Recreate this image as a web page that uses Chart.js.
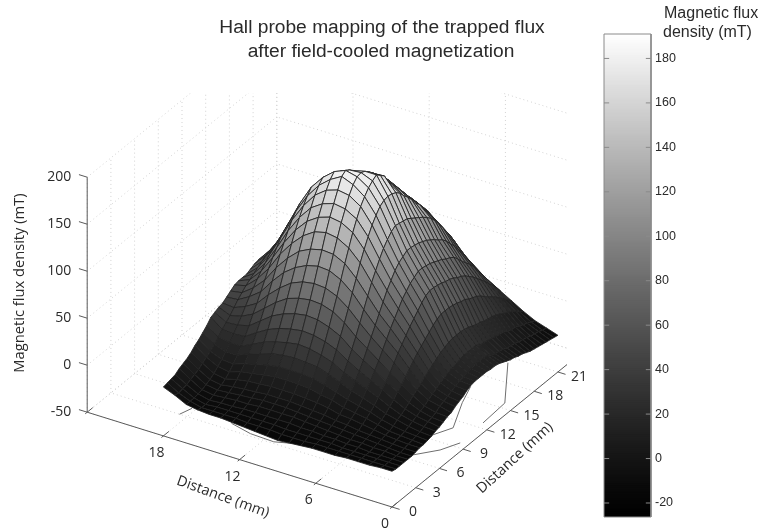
<!DOCTYPE html>
<html>
<head>
<meta charset="utf-8">
<title>Hall probe mapping</title>
<script src="https://cdn.jsdelivr.net/npm/chart.js@4/dist/chart.umd.js"></script>
<style>
  html,body{margin:0;padding:0;background:#fff;}
  canvas{position:absolute;display:block;}
</style>
</head>
<body>
<canvas id="surface" width="762" height="531" style="left:0;top:0;width:762px;height:531px"></canvas>
<canvas id="colorbar" width="172" height="531" style="left:590px;top:0;width:172px;height:531px"></canvas>
<script>
// grid of the probe scan (mm)
const distX = [0,0.9,1.8,2.7,3.6,4.5,5.4,6.3,7.2,8.1,9,9.9,10.8,11.7,12.6,13.5,14.4,15.3,16.2,17.1,18];
const distY = [0,0.5,1,1.5,2,2.5,3,3.5,4,4.5,5,5.5,6,6.5,7,7.5,8,8.5,9,9.5,10,10.5,
  11,11.5,12,12.5,13,13.5,14,14.5,15,15.5,16,16.5,17,17.5,18,18.5,19,19.5,20,20.5,21];

// flux density in mT, one list per y row
const row00 = [-12,-12,-13,-13,-13,-14,-14,-14,-15,-16,-17,-16,-15,-14,-13,-12,-12,-11,-9,-3,2];
const row01 = [-13,-13,-13,-13,-13,-13,-13,-13,-14,-14,-14,-13,-13,-13,-12,-12,-12,-12,-9,-4,3];
const row02 = [-13,-13,-13,-13,-13,-13,-12,-12,-12,-12,-12,-11,-11,-11,-11,-11,-11,-12,-9,-3,4];
const row03 = [-13,-13,-13,-13,-12,-12,-11,-11,-10,-10,-9,-9,-9,-9,-9,-10,-10,-11,-8,-2,5];
const row04 = [-13,-13,-12,-12,-11,-11,-10,-9,-8,-7,-6,-6,-6,-6,-7,-7,-8,-9,-7,0,8];
const row05 = [-13,-13,-12,-11,-10,-9,-8,-7,-6,-5,-4,-3,-3,-3,-4,-5,-6,-7,-5,2,10];
const row06 = [-12,-12,-11,-10,-9,-8,-6,-5,-3,-2,-1,0,0,0,-1,-2,-3,-5,-3,4,12];
const row07 = [-11,-11,-10,-9,-7,-5,-3,-2,1,3,4,5,5,5,4,3,1,-2,0,7,15];
const row08 = [-11,-10,-9,-8,-5,-2,0,2,6,8,11,12,12,12,10,8,6,2,4,10,19];
const row09 = [-10,-9,-8,-6,-3,1,4,7,11,15,18,19,19,19,17,14,11,7,8,13,22];
const row10 = [-9,-8,-6,-3,0,5,9,13,18,23,27,28,29,28,26,22,18,13,13,17,26];
const row11 = [-7,-6,-4,-1,4,10,15,20,25,32,36,39,40,38,35,31,25,19,19,21,30];
const row12 = [-6,-4,-2,2,8,15,21,27,34,42,47,50,51,49,46,41,34,26,25,26,35];
const row13 = [-4,-3,0,5,13,20,28,35,43,53,59,63,64,62,58,52,43,34,31,30,37];
const row14 = [-2,-1,2,9,17,26,35,44,53,64,72,76,77,75,71,63,53,43,37,34,39];
const row15 = [-1,2,5,12,22,33,43,53,64,76,85,90,91,89,84,75,64,51,44,39,40];
const row16 = [2,4,8,15,27,40,51,62,75,89,99,105,106,103,97,88,75,60,51,44,43];
const row17 = [4,6,10,19,32,46,59,71,86,101,113,119,120,117,111,100,86,69,57,48,46];
const row18 = [6,8,13,22,37,52,66,80,97,114,126,133,135,132,124,112,97,78,63,52,49];
const row19 = [9,10,15,25,41,58,73,89,106,125,139,146,148,144,136,123,106,86,68,55,50];
const row20 = [11,12,17,28,45,63,80,96,115,135,150,157,159,155,147,133,115,93,73,58,50];
const row21 = [12,13,19,31,49,68,85,103,123,144,160,168,170,166,157,142,123,100,78,61,50];
const row22 = [12,14,20,33,53,73,90,108,129,151,167,176,181,174,164,149,129,105,82,64,52];
const row23 = [12,15,21,35,56,77,93,111,134,157,173,181,184,179,169,155,134,109,85,67,54];
const row24 = [12,16,22,36,58,79,96,114,137,160,177,182,181,175,167,153,132,111,87,69,55];
const row25 = [11,16,22,36,58,79,96,114,136,161,180,180,177,173,165,152,134,110,86,68,54];
const row26 = [11,16,22,36,58,78,95,113,135,160,176,176,172,170,162,151,135,110,86,68,53];
const row27 = [10,15,22,35,57,77,94,112,134,158,172,171,168,166,160,150,134,109,85,67,50];
const row28 = [8,12,19,34,56,75,92,110,131,154,162,166,163,161,157,148,131,107,83,66,49];
const row29 = [6,10,18,32,54,74,90,108,128,148,156,161,159,157,153,144,128,105,81,64,48];
const row30 = [4,9,17,30,53,72,88,105,125,143,150,156,155,153,150,141,125,102,79,62,46];
const row31 = [3,8,16,29,50,69,85,102,122,137,144,150,151,150,147,137,122,99,77,61,44];
const row32 = [1,6,14,27,48,67,83,98,118,130,137,143,146,147,143,133,118,95,75,59,42];
const row33 = [0,5,13,26,46,64,80,95,114,125,130,136,141,143,140,129,114,92,72,56,40];
const row34 = [-2,4,12,25,43,60,75,90,108,117,124,128,135,137,135,124,108,87,68,53,37];
const row35 = [-4,2,10,23,39,56,69,84,101,110,117,122,128,132,129,118,101,82,64,49,34];
const row36 = [-5,1,8,21,35,51,64,78,94,103,110,115,121,128,121,110,94,76,59,46,30];
const row37 = [-6,0,7,18,32,46,59,71,86,95,104,109,114,118,111,101,86,69,54,41,26];
const row38 = [-7,-2,5,16,28,41,53,64,78,87,97,103,107,107,100,91,78,62,48,36,22];
const row39 = [-8,-3,3,13,24,35,46,56,69,79,88,96,97,95,89,80,69,55,41,31,18];
const row40 = [-9,-4,1,10,19,30,39,48,59,70,78,83,84,82,76,69,59,46,34,26,14];
const row41 = [-10,-6,-1,6,15,24,31,40,49,58,65,69,70,68,64,57,49,38,28,20,10];
const row42 = [-11,-7,-3,3,10,17,24,31,39,47,53,56,57,55,52,46,39,30,21,15,6];
const fluxRows = [row00,row01,row02,row03,row04,row05,row06,row07,row08,row09,row10,row11,row12,row13,row14,
  row15,row16,row17,row18,row19,row20,row21,row22,row23,row24,row25,row26,row27,row28,row29,
  row30,row31,row32,row33,row34,row35,row36,row37,row38,row39,row40,row41,row42];

// contour traces on the floor, [x mm, y mm]
const contourA = [[15,3.8],[13.2,3.3],[11.3,3.2],[9.8,3.8]];
const contourB = [[3.2,6],[2.45,6.6],[1.25,8.1],[0.6,9.6]];
const contourC = [[3.2,8.8],[2.7,9.6],[2.06,11.05],[3.3,14.2],[3.95,16.3]];
const contourD = [[0.7,12.65],[0.85,15.65],[3.5,20.3]];
const contourE = [[18.6,3],[18.3,4.1]];

// axes
const xTicks = [0,6,12,18,24];
const xTickLabels = ['0','6','12','18',''];
const yTicks = [0,3,6,9,12,15,18,21,24];
const yTickLabels = ['0','3','6','9','12','15','18','21',''];
const zTicks = [-50,0,50,100,150,200];
const barTicks = [-20,0,20,40,60,80,100,120,140,160,180];
const titleLines = ['Hall probe mapping of the trapped flux','after field-cooled magnetization'];
const axisName = 'Distance (mm)';
const zName = 'Magnetic flux density (mT)';
const barNameLines = ['Magnetic flux','density (mT)'];

const X_MAX = 24, Y_MAX = 24, Z_MIN = -50, Z_MAX = 200;
const C_MIN = -26.3, C_MAX = 191, GRAY_LEVELS = 256, GRAY_GAMMA = 1.2;

// orthographic view of the 3D box onto page pixels
function project(x, y, z){
  return {x: 392 - 12.7*x + 7.9*y, y: 507 - 3.95*x - 6.43*y - 0.94*(z - Z_MIN)};
}
function grayFor(z){
  const t = Math.max(0, Math.min(1, (z - C_MIN)/(C_MAX - C_MIN)));
  const v = Math.round(Math.pow(t, GRAY_GAMMA)*255);
  return 'rgb('+v+','+v+','+v+')';
}

// filled quad per dataset, points still go through the scales
class SurfaceQuadController extends Chart.ScatterController {
  draw(){
    const pts = this.getMeta().data, ds = this.getDataset(), ctx = this.chart.ctx;
    ctx.save();
    ctx.beginPath();
    pts.forEach((p,i) => i ? ctx.lineTo(p.x,p.y) : ctx.moveTo(p.x,p.y));
    ctx.closePath();
    ctx.fillStyle = ds.backgroundColor;
    ctx.fill();
    ctx.strokeStyle = ds.borderColor;
    ctx.lineWidth = ds.borderWidth;
    ctx.stroke();
    ctx.restore();
  }
}
SurfaceQuadController.id = 'surfaceQuad';
SurfaceQuadController.defaults = Chart.ScatterController.defaults;
Chart.register(SurfaceQuadController);

const WALL_CLIP = {left:0, top:-93, right:-195, bottom:0};
function seg(points, color, width, dash){
  return {type:'scatter', showLine:true, data:points, borderColor:color, borderWidth:width,
    borderDash:dash||[], pointRadius:0, fill:false, tension:0, clip:WALL_CLIP};
}
const GRID = '#d2d2d2', AXIS = '#5a5a5a', DOTS = [1,3];

const datasets = [];
// first dataset is painted last, so nearest quads go first
for(let j=0;j<distY.length-1;j++){
  for(let i=0;i<distX.length-1;i++){
    const corners = [[i,j],[i+1,j],[i+1,j+1],[i,j+1]];
    const pts = corners.map(c => project(distX[c[0]],distY[c[1]],fluxRows[c[1]][c[0]]));
    const mean = corners.reduce((s,c) => s + fluxRows[c[1]][c[0]], 0)/4;
    datasets.push({type:'surfaceQuad', data:pts, backgroundColor:grayFor(mean),
      borderColor:'rgba(35,35,35,0.85)', borderWidth:1, pointRadius:0});
  }
}
[contourA,contourB,contourC,contourD,contourE].forEach(c => {
  datasets.push(seg(c.map(p => project(p[0],p[1],Z_MIN)), '#6e6e6e', 1));
});
// axis lines and ticks
datasets.push(seg([project(0,0,Z_MIN),project(X_MAX,0,Z_MIN)], AXIS, 1));
datasets.push(seg([project(0,0,Z_MIN),project(0,Y_MAX,Z_MIN)], AXIS, 1));
datasets.push(seg([project(X_MAX,0,Z_MIN),project(X_MAX,0,Z_MAX)], AXIS, 1));
xTicks.forEach(v => datasets.push(seg([project(v,-0.25,Z_MIN),project(v,0.7,Z_MIN)], AXIS, 1)));
yTicks.forEach(v => datasets.push(seg([project(0,v,Z_MIN),project(-0.6,v,Z_MIN)], AXIS, 1)));
zTicks.forEach(v => datasets.push(seg([project(X_MAX,0,v),project(X_MAX+0.65,0,v)], AXIS, 1)));
// dotted grid on floor and the two back walls
xTicks.forEach(v => {
  datasets.push(seg([project(v,0,Z_MIN),project(v,Y_MAX,Z_MIN)], GRID, 1, DOTS));
  datasets.push(seg([project(v,Y_MAX,Z_MIN),project(v,Y_MAX,Z_MAX)], GRID, 1, DOTS));
});
yTicks.forEach(v => {
  datasets.push(seg([project(0,v,Z_MIN),project(X_MAX,v,Z_MIN)], GRID, 1, DOTS));
  datasets.push(seg([project(X_MAX,v,Z_MIN),project(X_MAX,v,Z_MAX)], GRID, 1, DOTS));
});
zTicks.forEach(v => {
  datasets.push(seg([project(0,Y_MAX,v),project(X_MAX,Y_MAX,v)], GRID, 1, DOTS));
  datasets.push(seg([project(X_MAX,0,v),project(X_MAX,Y_MAX,v)], GRID, 1, DOTS));
});

const TICK_FONT = '14px "Open Sans"', TEXT = '#2a2a2a';
function rotatedText(ctx, text, x, y, deg, font){
  ctx.save();
  ctx.translate(x,y);
  ctx.rotate(deg*Math.PI/180);
  ctx.font = font;
  ctx.fillText(text,0,0);
  ctx.restore();
}
const surfaceText = {
  id:'surfaceText',
  afterDraw(chart){
    const ctx = chart.ctx, sx = chart.scales.x, sy = chart.scales.y;
    ctx.save();
    ctx.fillStyle = TEXT;
    ctx.textBaseline = 'middle';
    ctx.textAlign = 'center';
    ctx.font = '19.2px "Liberation Sans"';
    ctx.fillText(titleLines[0], 382, 28);
    ctx.fillText(titleLines[1], 381, 52);
    ctx.font = TICK_FONT;
    xTicks.forEach((v,i) => {
      const p = project(v,0,Z_MIN);
      ctx.fillText(xTickLabels[i], sx.getPixelForValue(p.x)-7, sy.getPixelForValue(p.y)+17);
    });
    yTicks.forEach((v,i) => {
      const p = project(0,v,Z_MIN);
      ctx.fillText(yTickLabels[i], sx.getPixelForValue(p.x)+21, sy.getPixelForValue(p.y)+5);
    });
    ctx.textAlign = 'right';
    zTicks.forEach(v => {
      const p = project(X_MAX,0,v);
      ctx.fillText(String(v), sx.getPixelForValue(p.x)-16, sy.getPixelForValue(p.y));
    });
    ctx.textAlign = 'center';
    rotatedText(ctx, axisName, 223, 497, 20, '14.5px "Open Sans"');
    rotatedText(ctx, axisName, 515, 458, -42.5, '14.5px "Open Sans"');
    rotatedText(ctx, zName, 20, 283, -90, '14.7px "Open Sans"');
    ctx.restore();
  }
};

new Chart(document.getElementById('surface'), {
  type:'scatter',
  data:{datasets},
  options:{
    responsive:false, animation:false, events:[],
    layout:{padding:0},
    plugins:{legend:{display:false}, tooltip:{enabled:false}},
    scales:{
      x:{type:'linear', min:0, max:762, display:false},
      y:{type:'linear', min:0, max:531, reverse:true, display:false}
    }
  },
  plugins:[surfaceText]
});

// colour bar, real y axis on the right
const barSets = [];
const FRAME = '#8a8a8a';
function barLine(points){
  return {type:'line', xAxisID:'xt', data:points, borderColor:FRAME, borderWidth:1, pointRadius:0, clip:false, tension:0};
}
barSets.push(barLine([{x:0,y:C_MIN},{x:0,y:C_MAX},{x:1,y:C_MAX},{x:1,y:C_MIN},{x:0,y:C_MIN}]));
barTicks.forEach(v => {
  barSets.push(barLine([{x:0,y:v},{x:0.11,y:v}]));
  barSets.push(barLine([{x:0.89,y:v},{x:1,y:v}]));
});
const step = (C_MAX - C_MIN)/GRAY_LEVELS;
for(let k=GRAY_LEVELS-1;k>=0;k--){
  const lo = C_MIN + k*step;
  barSets.push({type:'bar', data:[[lo, Math.min(C_MAX, lo+step*1.5)]], backgroundColor:grayFor(lo+step/2),
    barPercentage:1, categoryPercentage:1, grouped:false, borderWidth:0});
}

new Chart(document.getElementById('colorbar'), {
  type:'bar',
  data:{labels:['flux'], datasets:barSets},
  options:{
    responsive:false, animation:false, events:[],
    layout:{padding:{left:14, top:34, bottom:14, right:0}},
    plugins:{legend:{display:false}, tooltip:{enabled:false}},
    scales:{
      x:{display:false, stacked:false},
      xt:{type:'linear', min:0, max:1, display:false, offset:false},
      y:{
        position:'right', min:C_MIN, max:C_MAX,
        afterBuildTicks(ax){ ax.ticks = barTicks.map(v => ({value:v})); },
        afterFit(ax){ ax.width = 111; },
        grid:{drawOnChartArea:false, drawTicks:false, tickLength:0},
        border:{display:false},
        ticks:{padding:4, color:TEXT, font:{family:'"Liberation Sans"', size:12.5}, autoSkip:false}
      }
    }
  },
  plugins:[{
    id:'barTitle',
    afterDraw(chart){
      const ctx = chart.ctx;
      ctx.save();
      ctx.fillStyle = TEXT;
      ctx.font = '16px "Liberation Sans"';
      ctx.textBaseline = 'middle';
      ctx.fillText(barNameLines[0], 74, 14);
      ctx.fillText(barNameLines[1], 73, 33);
      ctx.restore();
    }
  }]
});
</script>
</body>
</html>
